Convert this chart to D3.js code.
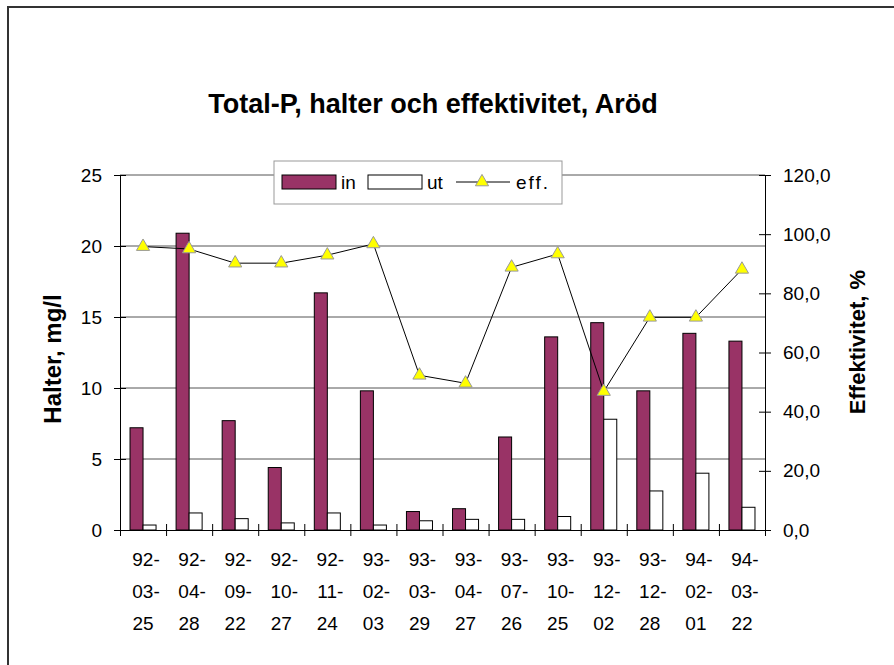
<!DOCTYPE html>
<html>
<head>
<meta charset="utf-8" />
<title>Total-P, Aröd</title>
<script src="https://d3js.org/d3.v7.min.js"></script>
<style>
  body { margin: 0; background: #fff; }
  text { font-family: "Liberation Sans", Arial, sans-serif; }
</style>
</head>
<body>
<svg id="viz"></svg>
<script>
// data
var dates = ["92-03-25","92-04-28","92-09-22","92-10-27","92-11-24","93-02-03","93-03-29",
             "93-04-27","93-07-26","93-10-25","93-12-02","93-12-28","94-02-01","94-03-22"];
var halterIn = [7.2, 20.9, 7.7, 4.4, 16.7, 9.8, 1.3, 1.5, 6.55, 13.6, 14.6, 9.8, 13.85, 13.3];
var halterUt = [0.35, 1.2, 0.8, 0.5, 1.2, 0.35, 0.65, 0.75, 0.75, 0.95, 7.8, 2.75, 4.0, 1.6];
var eff = [95.8, 95.0, 90.2, 90.2, 92.9, 96.7, 52.3, 49.6, 88.8, 93.3, 46.8, 71.9, 71.9, 88.1];
var leftTicks = [0, 5, 10, 15, 20, 25];
var rightTicks = [0, 20, 40, 60, 80, 100, 120];

var W = 894, H = 665;
var pLeft = 120, pRight = 765, pTop = 175, pBottom = 530;

var svg = d3.select("#viz").attr("width", W).attr("height", H);

// outer chart frame
svg.append("rect")
  .attr("x", 8).attr("y", 7).attr("width", 1000).attr("height", 1000)
  .attr("fill", "none").attr("stroke", "#333").attr("stroke-width", 2);

var x = d3.scaleBand().domain(dates).range([pLeft, pRight]).padding(0);
var groupW = x.bandwidth() * 0.565;
var x1 = d3.scaleBand().domain(["in", "ut"]).range([0, groupW]).padding(0);
var yL = d3.scaleLinear().domain([0, 25]).range([pBottom, pTop]);
var yR = d3.scaleLinear().domain([0, 120]).range([pBottom, pTop]);

// gridlines (incl. top border of plot)
svg.append("g").selectAll("line")
  .data(leftTicks.slice(1))
  .enter().append("line")
  .attr("x1", pLeft).attr("x2", pRight)
  .attr("y1", function(d) { return yL(d); })
  .attr("y2", function(d) { return yL(d); })
  .attr("stroke", "#555").attr("stroke-width", 1);

// bars
var groups = svg.append("g").selectAll("g")
  .data(dates)
  .enter().append("g")
  .attr("transform", function(d) {
    return "translate(" + (x(d) + (x.bandwidth() - groupW) / 2) + ",0)";
  });

groups.append("rect")
  .attr("x", x1("in"))
  .attr("width", x1.bandwidth())
  .attr("y", function(d, i) { return yL(halterIn[i]); })
  .attr("height", function(d, i) { return pBottom - yL(halterIn[i]); })
  .attr("fill", "#993366").attr("stroke", "#000").attr("stroke-width", 1);

groups.append("rect")
  .attr("x", x1("ut"))
  .attr("width", x1.bandwidth())
  .attr("y", function(d, i) { return yL(halterUt[i]); })
  .attr("height", function(d, i) { return pBottom - yL(halterUt[i]); })
  .attr("fill", "#fff").attr("stroke", "#000").attr("stroke-width", 1);

// eff line
var line = d3.line()
  .x(function(d, i) { return x(dates[i]) + x.bandwidth() / 2; })
  .y(function(d) { return yR(d); });

svg.append("path")
  .datum(eff)
  .attr("d", line)
  .attr("fill", "none").attr("stroke", "#000").attr("stroke-width", 1);

var tri = d3.symbol().type(d3.symbolTriangle).size(75);
svg.append("g").selectAll("path")
  .data(eff)
  .enter().append("path")
  .attr("d", tri)
  .attr("transform", function(d, i) {
    return "translate(" + (x(dates[i]) + x.bandwidth() / 2) + "," + yR(d) + ")";
  })
  .attr("fill", "#ffff00").attr("stroke", "#999").attr("stroke-width", 1);

// axes
var yAxisL = d3.axisLeft(yL).tickValues(leftTicks).tickSizeOuter(0).tickSizeInner(6).tickPadding(12);
var gL = svg.append("g").attr("transform", "translate(" + pLeft + ",0)").call(yAxisL);
gL.selectAll(".tick line").attr("x1", -6).attr("x2", 6);
gL.selectAll("text").attr("font-size", 19).attr("font-family", "Liberation Sans, Arial").attr("fill", "#000");

var sv = d3.formatLocale({ decimal: ",", thousands: " ", grouping: [3], currency: ["", ""] });
var yAxisR = d3.axisRight(yR).tickValues(rightTicks).tickFormat(sv.format(".1f"))
  .tickSizeOuter(0).tickSizeInner(6).tickPadding(12);
var gR = svg.append("g").attr("transform", "translate(" + pRight + ",0)").call(yAxisR);
gR.selectAll(".tick line").attr("x1", -6).attr("x2", 6);
gR.selectAll("text").attr("font-size", 19).attr("font-family", "Liberation Sans, Arial").attr("fill", "#000");

// x axis: ticks on category boundaries
var xb = d3.scaleLinear().domain([0, dates.length]).range([pLeft, pRight]);
var xAxis = d3.axisBottom(xb).tickValues(d3.range(dates.length + 1)).tickFormat("").tickSizeOuter(0).tickSizeInner(6);
var gX = svg.append("g").attr("transform", "translate(0," + pBottom + ")").call(xAxis);
gX.selectAll(".tick line").attr("y1", -6).attr("y2", 6);

svg.selectAll(".domain").attr("stroke", "#000");
svg.selectAll(".tick line").attr("stroke", "#000");

// x labels, three rows
var xl = svg.append("g").selectAll("text")
  .data(dates)
  .enter().append("text")
  .attr("text-anchor", "middle")
  .attr("font-size", 19)
  .attr("fill", "#000");
[0, 1, 2].forEach(function(r) {
  xl.append("tspan")
    .attr("x", function(d) { return x(d) + x.bandwidth() / 2 + (r < 2 ? 3 : 0); })
    .attr("y", 566 + r * 32)
    .text(function(d) {
      var p = d.split("-");
      return r < 2 ? p[r] + "-" : p[r];
    });
});

// title
svg.append("text")
  .attr("x", 433).attr("y", 113)
  .attr("text-anchor", "middle")
  .attr("font-size", 27).attr("font-weight", "bold")
  .text("Total-P, halter och effektivitet, Aröd");

// axis titles
svg.append("text")
  .attr("transform", "translate(61,359) rotate(-90)")
  .attr("text-anchor", "middle")
  .attr("font-size", 24).attr("font-weight", "bold")
  .text("Halter, mg/l");

svg.append("text")
  .attr("transform", "translate(865,342) rotate(-90)")
  .attr("text-anchor", "middle")
  .attr("font-size", 22).attr("font-weight", "bold")
  .text("Effektivitet, %");

// legend
var lg = svg.append("g");
lg.append("rect")
  .attr("x", 274).attr("y", 161).attr("width", 288).attr("height", 43)
  .attr("fill", "#fff").attr("stroke", "#999").attr("stroke-width", 1);
lg.append("rect").attr("x", 282).attr("y", 175).attr("width", 54).attr("height", 14)
  .attr("fill", "#993366").attr("stroke", "#000");
lg.append("text").attr("x", 341).attr("y", 189).attr("font-size", 19).text("in");
lg.append("rect").attr("x", 368).attr("y", 175).attr("width", 54).attr("height", 14)
  .attr("fill", "#fff").attr("stroke", "#000");
lg.append("text").attr("x", 427).attr("y", 189).attr("font-size", 19).text("ut");
lg.append("line").attr("x1", 456).attr("x2", 510).attr("y1", 182).attr("y2", 182)
  .attr("stroke", "#000");
lg.append("path").attr("d", tri).attr("transform", "translate(482,182)")
  .attr("fill", "#ffff00").attr("stroke", "#999");
lg.append("text").attr("x", 516).attr("y", 189).attr("font-size", 19)
  .attr("letter-spacing", 2).text("eff.");
</script>
</body>
</html>
